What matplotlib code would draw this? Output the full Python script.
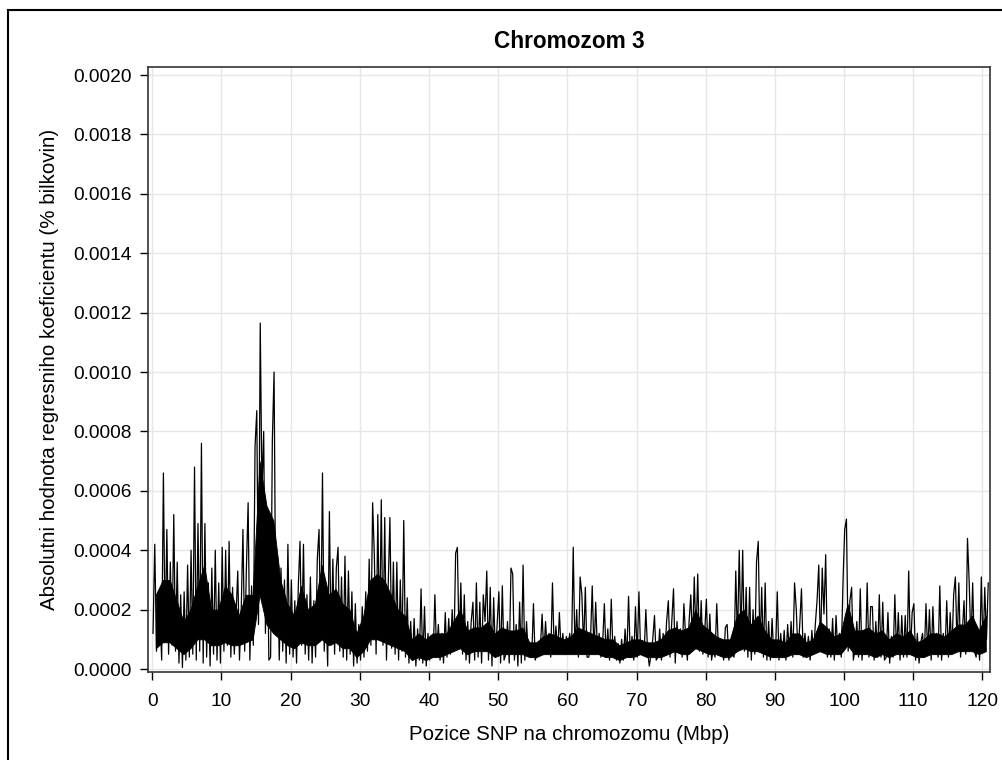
import numpy as np
import matplotlib
matplotlib.use("Agg")
from matplotlib import pyplot as plt
from matplotlib.patches import Rectangle

plt.rcParams['font.family'] = ['Liberation Sans', 'DejaVu Sans']

# |regression coefficient| in units of 1e-4, one row per Mbp, step 0.25 Mbp
coef_rows = [
    [1.2, 4.2, 0.6, 2.6], [2.0, 0.3, 6.6, 1.0], [4.7, 0.5, 3.6, 0.8], [5.2, 0.6, 3.6, 0.2],
    [2.5, 0.05, 2.6, 0.3], [3.5, 0.4, 4.0, 0.5], [6.8, 0.3, 4.9, 0.6], [7.6, 0.2, 4.9, 0.4],
    [2.9, 0.1, 3.4, 0.5], [4.0, 0.3, 2.9, 0.2], [4.1, 0.6, 4.0, 0.8], [4.3, 0.4, 2.75, 0.5],
    [1.8, 3.3, 0.3, 2.0], [4.7, 0.6, 3.4, 5.6], [0.3, 2.8, 0.8, 7.5], [8.7, 1.5, 11.65, 6.0],
    [8.0, 1.2, 4.7, 0.3], [0.4, 7.7, 10.0, 1.5], [3.8, 0.3, 3.4, 0.6], [3.0, 0.2, 4.2, 0.5],
    [3.0, 0.4, 2.3, 0.2], [2.75, 4.3, 0.8, 4.2], [0.5, 2.5, 0.3, 3.1], [0.2, 2.3, 0.4, 3.7],
    [4.7, 1.0, 6.6, 0.6], [2.2, 0.1, 5.3, 0.8], [3.7, 0.5, 3.4, 4.1], [0.6, 3.1, 0.4, 3.8],
    [0.3, 3.3, 0.5, 2.6], [0.1, 2.2, 0.2, 1.5], [0.3, 2.1, 0.4, 2.6], [0.6, 3.7, 0.8, 5.6],
    [3.8, 0.5, 5.2, 1.0], [5.7, 0.8, 5.1, 0.3], [2.8, 5.1, 0.7, 3.6], [0.5, 3.6, 0.3, 3.0],
    [0.6, 5.0, 0.4, 2.4], [0.2, 1.6, 0.3, 1.7], [0.1, 1.35, 0.3, 2.7], [0.2, 2.1, 0.1, 1.2],
    [0.3, 1.1, 0.4, 2.5], [0.5, 1.5, 0.3, 1.2], [0.2, 1.9, 0.4, 1.7], [0.5, 2.0, 0.6, 3.9],
    [4.1, 0.8, 2.9, 0.5], [2.5, 0.3, 1.6, 0.2], [1.6, 2.25, 0.3, 2.9], [0.4, 2.25, 0.2, 2.5],
    [1.6, 3.3, 0.3, 2.75], [0.1, 2.4, 0.4, 1.5], [2.6, 0.2, 2.8, 0.3], [0.5, 1.6, 0.2, 3.4],
    [3.2, 0.3, 1.5, 0.1], [2.25, 0.2, 3.5, 0.3], [1.6, 0.5, 0.6, 0.4], [2.2, 0.3, 0.5, 0.6],
    [0.7, 1.85, 0.5, 1.6], [0.6, 1.2, 0.4, 2.9], [0.6, 1.45, 0.5, 1.9], [0.6, 1.2, 0.5, 1.1],
    [0.7, 1.2, 0.5, 4.1], [0.6, 2.0, 0.4, 3.1], [2.5, 0.7, 2.75, 0.4], [0.4, 1.0, 2.8, 0.5],
    [2.25, 0.6, 1.2, 0.4], [0.85, 2.2, 0.4, 1.35], [0.3, 2.35, 0.5, 1.1], [0.3, 0.85, 0.2, 1.0],
    [0.3, 1.35, 0.4, 2.45], [0.4, 1.1, 0.3, 2.1], [0.4, 2.6, 0.5, 0.95], [0.5, 2.0, 0.6, 0.1],
    [0.5, 1.0, 1.8, 0.3], [0.4, 1.35, 0.3, 1.2], [0.5, 1.6, 2.3, 0.4], [1.6, 2.7, 0.2, 1.6],
    [0.6, 1.35, 0.4, 2.2], [1.1, 0.3, 1.6, 2.5], [0.8, 3.1, 1.0, 3.2], [0.6, 2.3, 0.5, 1.2],
    [2.35, 0.4, 1.85, 0.3], [0.7, 0.4, 2.2, 0.6], [0.5, 1.0, 0.3, 1.4], [1.5, 0.3, 0.7, 0.5],
    [0.4, 3.3, 0.9, 4.0], [1.0, 4.0, 0.6, 2.75], [0.4, 2.75, 0.3, 2.0], [0.5, 3.6, 4.3, 0.6],
    [2.75, 0.4, 2.9, 0.3], [1.6, 0.3, 1.7, 0.4], [0.5, 2.6, 0.3, 1.2], [0.4, 1.3, 0.3, 1.5],
    [0.5, 1.6, 0.4, 2.9], [2.0, 0.5, 1.5, 2.7], [0.4, 1.2, 0.5, 1.1], [0.3, 1.3, 0.5, 1.5],
    [2.3, 3.5, 0.6, 3.4], [1.85, 3.85, 0.4, 1.35], [0.4, 1.7, 0.3, 1.8], [0.5, 1.2, 0.4, 2.9],
    [4.7, 5.05, 0.6, 2.3], [2.75, 0.3, 0.7, 1.6], [0.4, 2.7, 0.3, 1.2], [0.5, 2.9, 0.4, 2.1],
    [2.1, 0.3, 1.6, 0.4], [2.5, 0.4, 2.25, 0.3], [0.4, 1.9, 0.2, 1.1], [0.4, 2.5, 0.5, 1.9],
    [0.3, 1.8, 0.4, 1.8], [0.4, 3.3, 0.5, 1.9], [2.2, 0.3, 1.2, 0.2], [0.9, 1.2, 0.4, 2.2],
    [0.5, 2.0, 0.3, 2.1], [0.5, 1.2, 0.4, 2.8], [0.3, 1.2, 0.5, 2.3], [0.4, 1.9, 0.6, 2.5],
    [3.1, 0.7, 2.9, 0.4], [1.2, 2.3, 0.5, 4.4], [2.9, 0.8, 2.9, 0.6], [0.4, 1.3, 0.3, 3.1],
    [0.6, 2.75, 1.0, 2.9],
]

# dense core of the trace per Mbp (lower / upper edge), units 1e-4
band_lo = [
    0.7, 0.9, 0.9, 0.7, 0.5, 0.7, 1.0, 1.0, 0.8, 0.8, 0.9, 0.8, 0.8, 0.9, 1.0, 2.5,
    1.5, 1.2, 1.0, 0.8, 0.7, 0.9, 0.8, 0.8, 1.0, 0.8, 0.9, 0.7, 0.7, 0.4, 0.6, 1.0,
    1.0, 0.9, 0.8, 0.7, 0.6, 0.3, 0.4, 0.3, 0.4, 0.4, 0.5, 0.6, 0.7, 0.5, 0.6, 0.6,
    0.6, 0.4, 0.5, 0.5, 0.5, 0.5, 0.4, 0.4, 0.5, 0.5, 0.5, 0.5, 0.5, 0.5, 0.5, 0.5,
    0.5, 0.4, 0.4, 0.3, 0.4, 0.4, 0.5, 0.4, 0.4, 0.4, 0.5, 0.6, 0.5, 0.5, 0.7, 0.6,
    0.5, 0.5, 0.4, 0.4, 0.6, 0.7, 0.6, 0.6, 0.5, 0.4, 0.4, 0.4, 0.5, 0.5, 0.4, 0.5,
    0.6, 0.5, 0.5, 0.5, 0.8, 0.5, 0.5, 0.5, 0.4, 0.5, 0.4, 0.5, 0.5, 0.5, 0.4, 0.4,
    0.5, 0.5, 0.5, 0.5, 0.6, 0.6, 0.6, 0.5, 0.6,
]
band_hi = [
    2.5, 3.0, 3.0, 2.3, 1.6, 2.0, 2.8, 3.5, 2.0, 2.0, 2.8, 2.5, 1.8, 2.5, 2.5, 7.0,
    5.5, 5.0, 3.0, 2.2, 1.8, 2.8, 2.0, 2.2, 3.5, 2.5, 2.7, 2.2, 2.0, 1.2, 1.8, 3.0,
    3.2, 3.0, 2.5, 2.0, 1.8, 1.0, 1.2, 1.0, 1.2, 1.2, 1.2, 1.6, 2.0, 1.3, 1.4, 1.4,
    1.6, 1.2, 1.4, 1.3, 1.3, 1.4, 0.9, 0.9, 1.1, 1.2, 1.1, 1.0, 1.1, 1.4, 1.3, 1.2,
    1.1, 1.0, 1.0, 0.8, 0.9, 1.0, 1.0, 0.9, 0.9, 1.0, 1.3, 1.4, 1.3, 1.4, 2.0, 1.5,
    1.3, 1.1, 1.0, 1.0, 1.8, 2.0, 1.5, 1.8, 1.3, 1.0, 1.0, 0.9, 1.2, 1.2, 0.9, 1.0,
    1.6, 1.4, 1.1, 1.2, 2.2, 1.3, 1.3, 1.4, 1.2, 1.3, 1.0, 1.2, 1.1, 1.3, 0.9, 1.0,
    1.2, 1.2, 1.1, 1.3, 1.5, 1.5, 1.8, 1.3, 1.8,
]

coef = np.array(coef_rows).ravel() * 1e-4
pos_mbp = np.arange(len(coef)) * 0.25 + 0.1
band_pos = np.arange(len(band_lo)) + 0.5

fig = plt.figure(figsize=(10.03, 7.6), dpi=100)
ax = fig.add_axes([0.1476, 0.1158, 0.9870 - 0.1476, 0.9118 - 0.1158])

ax.fill_between(band_pos, np.array(band_lo) * 1e-4, np.array(band_hi) * 1e-4,
                color='black', linewidth=0.6, edgecolor='black')
ax.plot(pos_mbp, coef, color='black', linewidth=0.9)

ax.set_xlim(-0.62, 121.1)
ax.set_ylim(-0.00001, 0.002027)
ax.set_xticks(range(0, 121, 10))
ax.set_yticks(np.arange(0, 0.00201, 0.0002))
ax.yaxis.set_major_formatter(matplotlib.ticker.FormatStrFormatter('%.4f'))
ax.grid(True, color='#e6e6e6', linewidth=1.0)
ax.set_axisbelow(True)
ax.tick_params(direction='out', length=6, width=1, labelsize=13.8, pad=6, colors='black')
ax.tick_params(axis='x', pad=9)
for s in ax.spines.values():
    s.set_color('#333333')
    s.set_linewidth(1.2)

ax.set_title('Chromozom 3', fontsize=16.3, fontweight='bold', pad=14)
ax.set_xlabel('Pozice SNP na chromozomu (Mbp)', fontsize=14.8, labelpad=11)
ax.set_ylabel('Absolutni hodnota regresniho koeficientu (% bilkovin)', fontsize=14.8, labelpad=10)

fig.patches.append(Rectangle((8 / 1003, -0.1), 1.2, 1 - 10 / 760 + 0.1,
                             transform=fig.transFigure, fill=False,
                             edgecolor='black', linewidth=1.5))

fig.savefig('out.png', dpi=100)
